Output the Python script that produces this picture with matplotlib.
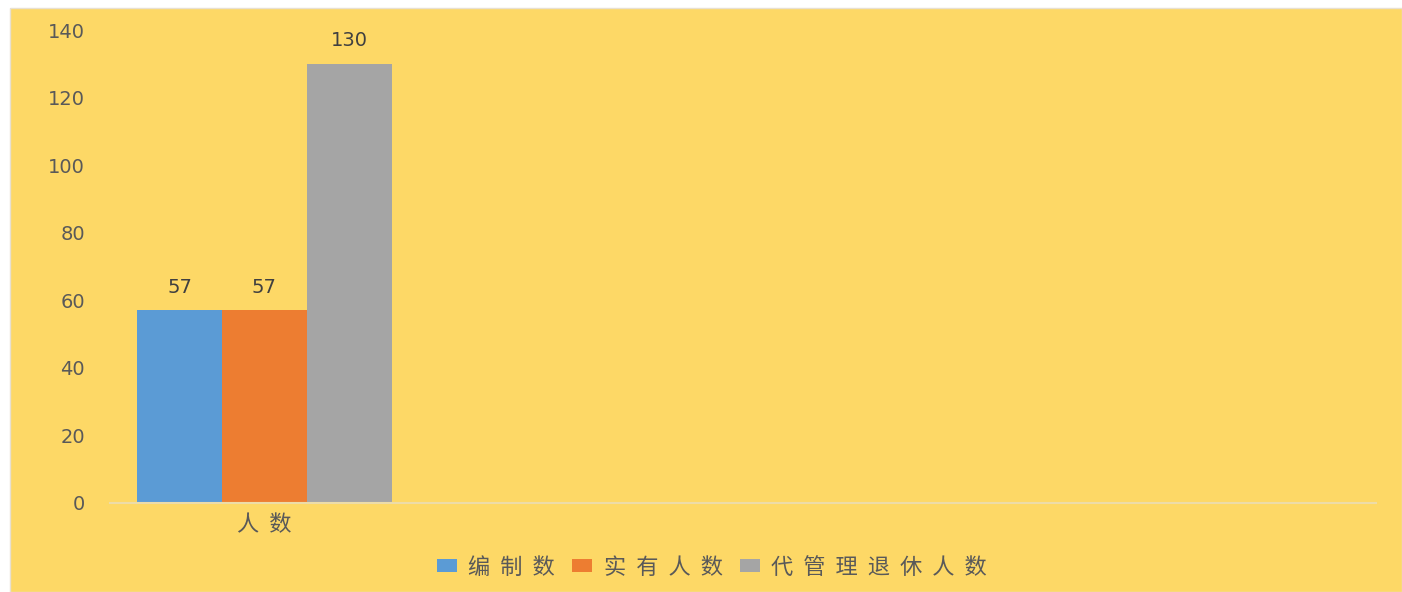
import matplotlib.pyplot as plt
from matplotlib.patches import Rectangle

plt.rcParams['font.family'] = ['Noto Sans CJK SC', 'DejaVu Sans']

categories = ['人数', '', '', '']
series_names = ['编制数', '实有人数', '代管理退休人数']
series_values = [[57], [57], [130]]
colors = ['#5B9BD5', '#ED7D31', '#A5A5A5']
bg = '#FDD866'
text_c = '#595959'


def spaced(s):
    return '  '.join(s)


fig = plt.figure(figsize=(14.02, 5.92), dpi=100)
fig.patches.append(Rectangle((10 / 1402, 0), 1 - 10 / 1402, 1 - 8 / 592,
                             transform=fig.transFigure, facecolor=bg,
                             edgecolor='#E8E0D0', linewidth=1, zorder=-10))

ax = fig.add_axes([110 / 1402, 89 / 592, 1266 / 1402, 473 / 592])
ax.set_facecolor('none')
ax.set_zorder(1)

w = 0.275
for i, (name, vals) in enumerate(zip(series_names, series_values)):
    xs = [j + (i - 1) * w for j in range(len(vals))]
    bars = ax.bar(xs, vals, width=w, color=colors[i], label=spaced(name), zorder=2)
    for b, v in zip(bars, vals):
        ax.text(b.get_x() + b.get_width() / 2, v + 4, str(v), ha='center', va='bottom',
                fontsize=14, color='#404040', family='DejaVu Sans')

ax.set_xlim(-0.5, 3.6)
ax.set_ylim(0, 140)
ax.set_yticks(range(0, 141, 20))
ax.set_xticks([0])
ax.set_xticklabels([spaced(categories[0])], fontsize=16, color=text_c)
ax.tick_params(length=0)
ax.tick_params(axis='y', labelsize=14, labelcolor=text_c, pad=18)
ax.tick_params(axis='x', pad=7)
for lab in ax.get_yticklabels():
    lab.set_family('DejaVu Sans')
for s in ['top', 'right', 'left']:
    ax.spines[s].set_visible(False)
ax.spines['bottom'].set_color('#EDDCA8')
ax.spines['bottom'].set_linewidth(1.5)

handles, labels = ax.get_legend_handles_labels()
leg = fig.legend(handles, labels, loc='center', bbox_to_anchor=(712 / 1402, 25 / 592),
                 ncol=3, frameon=False, fontsize=16, handlelength=0.9, handleheight=0.55,
                 handletextpad=0.5, columnspacing=0.8)
for t in leg.get_texts():
    t.set_color(text_c)

fig.savefig('out.png', dpi=100)
